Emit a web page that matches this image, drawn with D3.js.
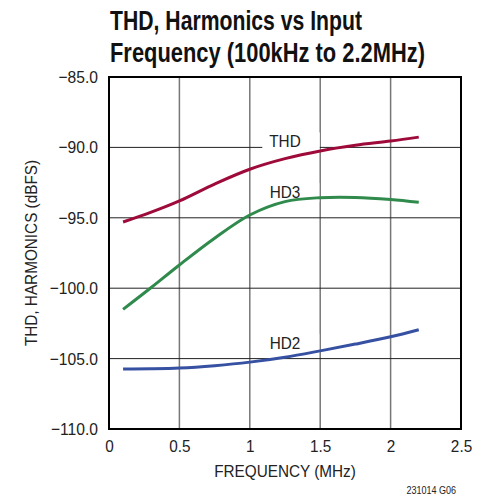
<!DOCTYPE html>
<html>
<head>
<meta charset="utf-8">
<script src="https://cdn.jsdelivr.net/npm/d3@7"></script>
<style>
  body { margin: 0; background: #fff; }
  text { font-family: "Liberation Sans", Arial, sans-serif; }
</style>
</head>
<body>
<div id="chart"></div>
<script>
// frequency points (MHz)
var freq = [0.1, 0.3, 0.5, 0.75, 1.0, 1.25, 1.5, 1.75, 2.0, 2.2];
// series values (dBFS)
var thd = [-95.3, -94.6, -93.8, -92.6, -91.55, -90.8, -90.25, -89.85, -89.55, -89.27];
var hd3 = [-101.5, -99.95, -98.35, -96.45, -94.8, -93.85, -93.57, -93.55, -93.7, -93.9];
var hd2 = [-105.73, -105.72, -105.67, -105.5, -105.25, -104.9, -104.45, -103.97, -103.45, -102.95];
var xTicks = [0, 0.5, 1, 1.5, 2, 2.5];
var yTicks = [-85, -90, -95, -100, -105, -110];

var W = 487, H = 500;
var margin = {t: 77, r: 26, b: 71, l: 109};
var pw = W - margin.l - margin.r,
    ph = H - margin.t - margin.b;

// squeeze text horizontally (no narrow font installed)
function condense(sel, f) {
  sel.each(function() {
    var w = this.getComputedTextLength();
    d3.select(this).attr("textLength", w * f).attr("lengthAdjust", "spacingAndGlyphs");
  });
}

var svg = d3.select("#chart").append("svg")
  .attr("width", W).attr("height", H);

// title
svg.append("text").attr("x", 110).attr("y", 30)
  .style("font-size", "28px").style("font-weight", "bold").attr("fill", "#111")
  .attr("textLength", 252).attr("lengthAdjust", "spacingAndGlyphs")
  .text("THD, Harmonics vs Input");
svg.append("text").attr("x", 110).attr("y", 62)
  .style("font-size", "28px").style("font-weight", "bold").attr("fill", "#111")
  .attr("textLength", 315).attr("lengthAdjust", "spacingAndGlyphs")
  .text("Frequency (100kHz to 2.2MHz)");

var g = svg.append("g").attr("transform", "translate(" + margin.l + "," + margin.t + ")");

var x = d3.scaleLinear().domain([0, 2.5]).range([0, pw]);
var y = d3.scaleLinear().domain([-110, -85]).range([ph, 0]);

// grid
g.selectAll(".vgrid").data(xTicks.slice(1, -1)).enter().append("line")
  .attr("x1", function(d) { return x(d); }).attr("x2", function(d) { return x(d); })
  .attr("y1", 0).attr("y2", ph)
  .attr("stroke", "#777").attr("stroke-width", 1.5);
g.selectAll(".hgrid").data(yTicks.slice(1, -1)).enter().append("line")
  .attr("x1", 0).attr("x2", pw)
  .attr("y1", function(d) { return y(d); }).attr("y2", function(d) { return y(d); })
  .attr("stroke", "#222").attr("stroke-width", 1);

// frame
g.append("rect").attr("width", pw).attr("height", ph)
  .attr("fill", "none").attr("stroke", "#000").attr("stroke-width", 2);

// axes (labels only)
var yAxis = g.append("g").call(d3.axisLeft(y).tickValues(yTicks).tickSize(0).tickPadding(11)
  .tickFormat(function(d) { return d3.format(".1f")(d).replace("-", "\u2212"); }));
yAxis.select(".domain").remove();
yAxis.selectAll("text").style("font-size", "17px").attr("fill", "#222")
  .style("font-family", "'Liberation Sans', Arial, sans-serif").call(condense, 0.92);

var xAxis = g.append("g").attr("transform", "translate(0," + ph + ")")
  .call(d3.axisBottom(x).tickValues(xTicks).tickSize(0).tickPadding(11).tickFormat(d3.format("")));
xAxis.select(".domain").remove();
xAxis.selectAll("text").style("font-size", "17px").attr("fill", "#222")
  .style("font-family", "'Liberation Sans', Arial, sans-serif").call(condense, 0.9);

// axis titles
svg.append("text").attr("x", margin.l + pw / 2).attr("y", 477)
  .attr("text-anchor", "middle").style("font-size", "17px").attr("fill", "#222")
  .text("FREQUENCY (MHz)").call(condense, 0.9);
svg.append("text")
  .attr("transform", "translate(37," + (margin.t + ph / 2) + ")rotate(-90)")
  .attr("text-anchor", "middle").style("font-size", "17px").attr("fill", "#222")
  .text("THD, HARMONICS (dBFS)").call(condense, 0.9);
svg.append("text").attr("x", 456).attr("y", 494)
  .attr("text-anchor", "end").style("font-size", "10px").attr("fill", "#222")
  .text("231014 G06").call(condense, 0.9);

// curves
var line = d3.line()
  .x(function(d) { return x(d[0]); })
  .y(function(d) { return y(d[1]); })
  .curve(d3.curveCatmullRom);

var series = [
  {name: "THD", v: thd, c: "#9e0b3a", lx: 1.25, ly: -90.0},
  {name: "HD3", v: hd3, c: "#2f8a4c", lx: 1.25, ly: -93.6},
  {name: "HD2", v: hd2, c: "#3650a2", lx: 1.25, ly: -104.3}
];

// label backgrounds and labels
series.forEach(function(s) {
  var t = g.append("text")
    .attr("x", x(s.lx)).attr("y", y(s.ly))
    .attr("text-anchor", "middle").style("font-size", "17px").attr("fill", "#222")
    .text(s.name).call(condense, 0.9);
  var bb = t.node().getBBox();
  g.insert("rect", function() { return t.node(); })
    .attr("x", bb.x - 7).attr("y", bb.y)
    .attr("width", bb.width + 26).attr("height", bb.height)
    .attr("fill", "#fff");
});

g.selectAll(".curve").data(series).enter().append("path")
  .attr("fill", "none")
  .attr("stroke", function(d) { return d.c; })
  .attr("stroke-width", 3)
  .attr("d", function(d) { return line(freq.map(function(f, i) { return [f, d.v[i]]; })); });
</script>
</body>
</html>
